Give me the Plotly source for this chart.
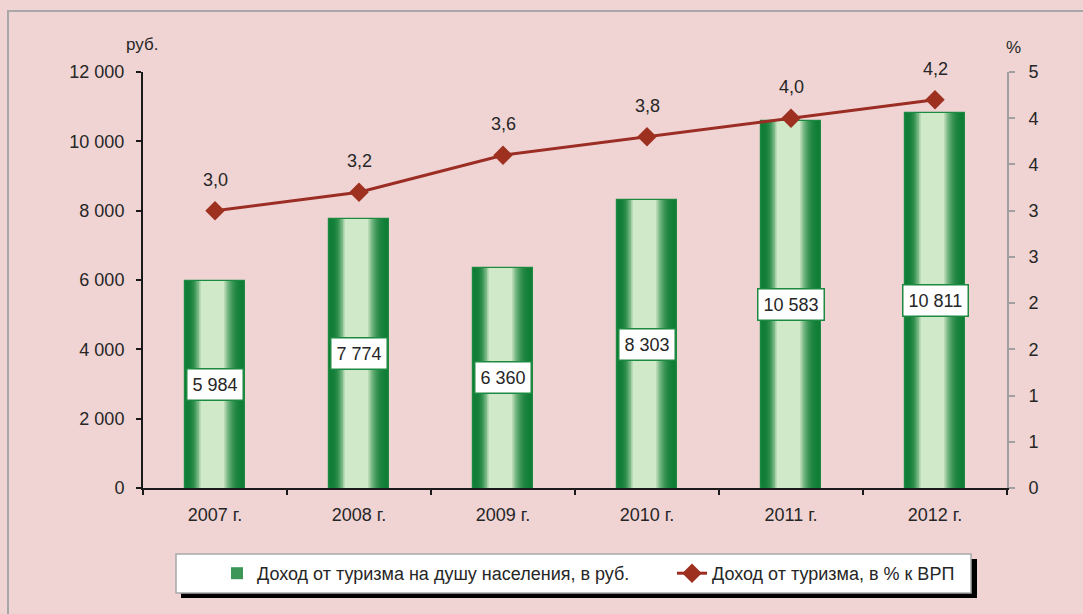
import plotly.graph_objects as go

# ---- data ----
years = ["2007 г.", "2008 г.", "2009 г.", "2010 г.", "2011 г.", "2012 г."]
income_per_capita = [5984, 7774, 6360, 8303, 10583, 10811]
income_share_grp = [3.0, 3.2, 3.6, 3.8, 4.0, 4.2]
right_tick_vals = [0, 0.5, 1, 1.5, 2, 2.5, 3, 3.5, 4, 4.5]
right_tick_text = ["0", "1", "1", "2", "2", "3", "3", "4", "4", "5"]
bar_name = "Доход от туризма на душу населения, в руб."
line_name = "Доход от туризма, в % к ВРП"

# ---- styling ----
BG = "#F0D4D4"
TEXT = "#262626"
FONT = "Liberation Sans"
DARK = (16, 126, 54)
LIGHT = (208, 233, 200)
BAR_W = 0.41
LEFT_IN, RIGHT_IN = 0.26, 0.34   # where the light band starts / ends

# plot area in pixels (for converting decoration positions)
L, R, T, B = 143, 76, 72, 126
W_PX, H_PX = 1083, 614
PW, PH = W_PX - L - R, H_PX - T - B


def px_x(px):
    return (px - L) / PW


def px_y(py):
    return (H_PX - B - py) / PH


fig = go.Figure()

# gradient bars simulated by nested overlaid bars
N = 22
for i in range(N):
    t = i / (N - 1)
    w = BAR_W * (1 - (LEFT_IN + RIGHT_IN) * t)
    off = -BAR_W / 2 + BAR_W * LEFT_IN * t
    e = t ** 2.6
    col = tuple(int(DARK[k] + (LIGHT[k] - DARK[k]) * e) for k in range(3))
    fig.add_trace(go.Bar(
        x=years, y=income_per_capita, width=w, offset=off,
        marker=dict(color="rgb(%d,%d,%d)" % col,
                    line=dict(color="#1C8A40" if i == 0 else "rgba(0,0,0,0)",
                              width=1.2 if i == 0 else 0)),
        name=bar_name, showlegend=(i == 12), legendwidth=410,
        hoverinfo="skip", yaxis="y",
    ))

fig.add_trace(go.Scatter(
    x=years, y=income_share_grp, yaxis="y2", mode="lines+markers",
    name=line_name,
    line=dict(color="#9B2D24", width=3),
    marker=dict(symbol="diamond", size=15, color="#9E3020"),
))

annotations = []
for yr, v in zip(years, income_per_capita):
    annotations.append(dict(
        x=yr, y=v / 2, xref="x", yref="y", showarrow=False,
        text=f"{v:,}".replace(",", " "),
        font=dict(size=18, color=TEXT, family=FONT),
        bgcolor="white", bordercolor="#1C8A40", borderwidth=1.5, borderpad=5,
    ))
for yr, v in zip(years, income_share_grp):
    annotations.append(dict(
        x=yr, y=v, xref="x", yref="y2", showarrow=False, yshift=31,
        text=f"{v:.1f}".replace(".", ","),
        font=dict(size=18, color=TEXT, family=FONT),
    ))
annotations.append(dict(x=px_x(142), y=px_y(45), xref="paper", yref="paper",
                        xanchor="center", yanchor="middle",
                        showarrow=False, text="руб.",
                        font=dict(size=17, color=TEXT, family=FONT)))
annotations.append(dict(x=px_x(1013), y=px_y(48), xref="paper", yref="paper",
                        xanchor="center", yanchor="middle",
                        showarrow=False, text="%",
                        font=dict(size=17, color=TEXT, family=FONT)))

shapes = [
    # outer chart border (top and left visible)
    dict(type="rect", xref="paper", yref="paper",
         x0=px_x(8), y0=px_y(700), x1=px_x(1200), y1=px_y(11),
         line=dict(color="#A8A8A8", width=2), layer="below"),
    # legend shadow
    dict(type="rect", xref="paper", yref="paper",
         x0=px_x(181), x1=px_x(977), y0=px_y(598), y1=px_y(559),
         fillcolor="black", line=dict(width=0), layer="below"),
    # legend box
    dict(type="rect", xref="paper", yref="paper",
         x0=px_x(176), x1=px_x(971), y0=px_y(593), y1=px_y(554),
         fillcolor="white", line=dict(color="#A8A8A8", width=1.5), layer="below"),
]

fig.update_layout(
    width=W_PX, height=H_PX,
    margin=dict(l=L, r=R, t=T, b=B),
    paper_bgcolor=BG, plot_bgcolor=BG,
    font=dict(family=FONT, size=18, color=TEXT),
    separators=", ",
    barmode="overlay",
    bargap=0,
    xaxis=dict(
        type="category", showgrid=False, zeroline=False,
        showline=True, linecolor="#1A1A1A", linewidth=2,
        ticks="outside", tickson="boundaries", ticklen=5, tickcolor="#1A1A1A",
        tickwidth=2, tickfont=dict(size=18), range=[-0.5, 5.5],
        ticklabelstandoff=9,
    ),
    yaxis=dict(
        range=[0, 12000], dtick=2000, tickformat=",d",
        showgrid=False, zeroline=False,
        showline=True, linecolor="#1A1A1A", linewidth=2,
        ticks="outside", ticklen=5, tickcolor="#1A1A1A", tickwidth=2,
        tickfont=dict(size=18), ticklabelstandoff=8,
    ),
    yaxis2=dict(
        overlaying="y", side="right", range=[0, 4.5],
        tickvals=right_tick_vals, ticktext=right_tick_text,
        showgrid=False, zeroline=False,
        showline=True, linecolor="#A0A0A0", linewidth=2,
        ticks="outside", ticklen=6, tickcolor="#A0A0A0", tickwidth=2,
        tickfont=dict(size=18), ticklabelstandoff=10,
    ),
    legend=dict(
        orientation="h", x=px_x(217), xanchor="left",
        y=px_y(573.5), yanchor="middle",
        bgcolor="rgba(0,0,0,0)", borderwidth=0,
        font=dict(size=18, family=FONT, color=TEXT),
        traceorder="normal",
    ),
    annotations=annotations,
    shapes=shapes,
    showlegend=True,
)

fig.write_html("out.html", config={"displayModeBar": False},
               post_script="document.body.style.margin='0px';")
